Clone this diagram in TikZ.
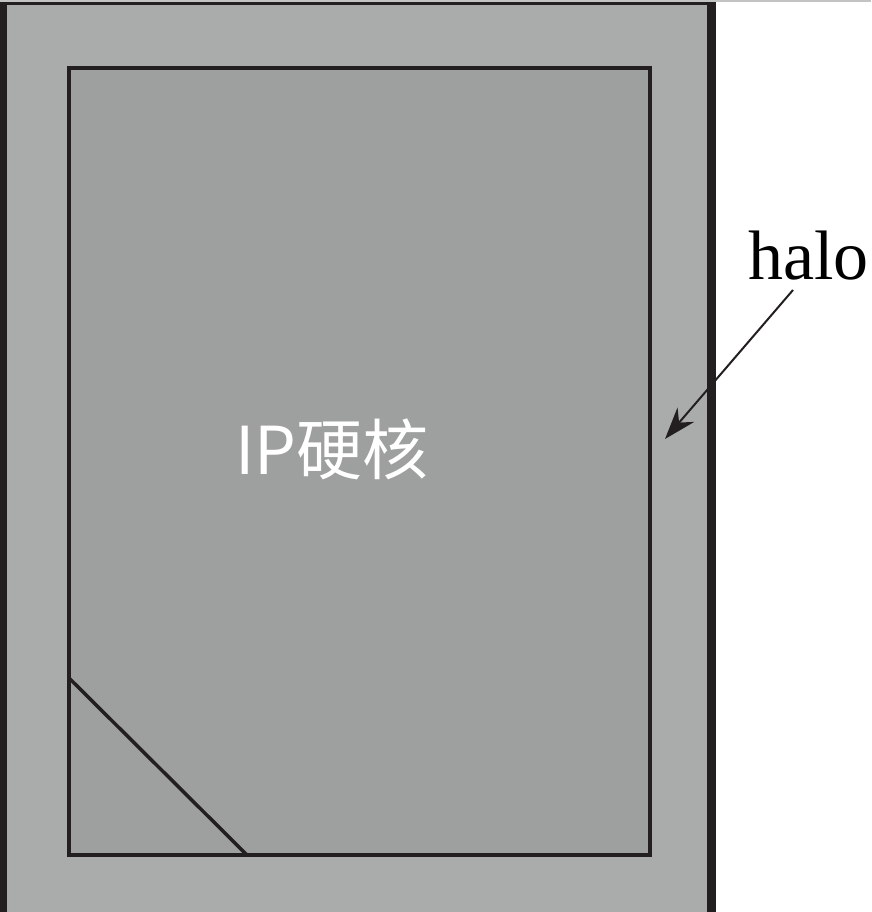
\documentclass[tikz,border=0pt]{standalone}
\usepackage{fontspec}
\setmainfont{Liberation Serif}
\newfontfamily\cjk{Noto Sans CJK SC}
\usetikzlibrary{arrows.meta}
\definecolor{outerfill}{HTML}{AAACAB}
\definecolor{innerfill}{HTML}{9EA0A0}
\definecolor{edge}{HTML}{231F20}
\tikzset{
  boxedge/.style={draw=edge, line width=4pt},
  label/.style={font=\fontsize{70}{70}\selectfont, text=black, inner sep=0pt},
  core/.style={font=\cjk\fontsize{66}{66}\selectfont, text=white, inner sep=0pt},
  pointer/.style={draw=edge, line width=2pt, -{Stealth[length=32pt,width=22pt]}}
}
\begin{document}
\begin{tikzpicture}[x=1pt,y=-1pt]
\useasboundingbox (0,0) rectangle (871,912);
\fill[white] (0,0) rectangle (871,912);
% top thin line
\draw[line width=1.5pt, draw={rgb,255:red,195;green,195;blue,195}] (0,1) -- (871,1);
% outer halo region
\fill[outerfill] (3,3) rectangle (712,912);
\draw[edge, line width=7pt] (3.5,3) -- (3.5,912);
\draw[edge, line width=9pt] (711.5,3) -- (711.5,912);
\draw[edge, line width=3pt] (0,3.5) -- (716,3.5);
% inner core
\coordinate (coreNW) at (69,68);
\coordinate (coreSE) at (649.5,855);
\draw[boxedge, fill=innerfill] (coreNW) rectangle (coreSE);
\coordinate (diagA) at (69,678);
\coordinate (diagB) at (247,855);
\draw[edge, line width=3.5pt] (diagA) -- (diagB);
\node[core] (coretext) at (332,449) {IP硬核};
% halo label and arrow
\node[label, anchor=base west] (halo) at (748,279) {halo};
\coordinate (tip) at (665,439);
\coordinate (tail) at (793,290);
\draw[pointer] (tail) -- (tip);
\end{tikzpicture}
\end{document}
